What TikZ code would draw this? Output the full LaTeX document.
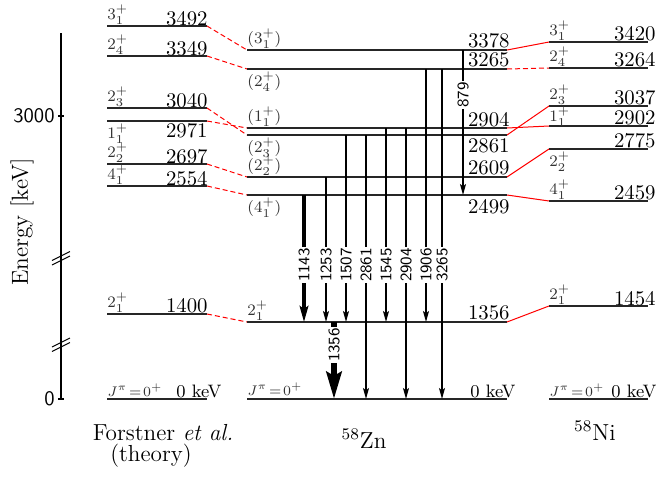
\RequirePackage{fix-cm}
\documentclass[tikz,border=0pt]{standalone}
\usepackage{fontspec}
\usetikzlibrary{arrows.meta}
\newcommand\myfs[1]{\fontsize{#1}{#1}\selectfont}
\tikzset{
  lvl/.style={line width=0.55pt, black!85},
  num/.style={inner sep=0pt, font=\myfs{10.4}},
  kev/.style={inner sep=0pt, font=\myfs{9}},
  lab/.style={inner sep=0pt, font=\myfs{8}, text=black!80},
  jlab/.style={inner sep=0pt, font=\myfs{7}, text=black!80},
  tr/.style={line width=0.75pt, -{Stealth[length=5.5pt,width=3pt,inset=1.2pt]}},
  trb/.style={line width=1.6pt, -{Stealth[length=8pt,width=4.3pt,inset=1.5pt]}},
  trc/.style={line width=3.3pt, -{Stealth[length=13.5pt,width=7.5pt,inset=2pt]}},
  tlab/.style={fill=white, inner sep=0.5pt, rotate=90, font=\sffamily\myfs{8}},
  redd/.style={red, line width=0.5pt, dash pattern=on 2.5pt off 1.5pt},
  reds/.style={red, line width=0.5pt},
  title/.style={inner sep=0pt, font=\myfs{11.6}},
  axl/.style={inner sep=0pt, font=\sffamily\myfs{10.3}},
  axis/.style={line width=0.55pt, black},
}
\begin{document}
\begin{tikzpicture}[x=0.5pt,y=-0.5pt]
\useasboundingbox (0,0) rectangle (659,477);
% level lines
\foreach \n/\y in {3492/26,3349/56,3040/108,2971/121,2697/164,2554/186,1400/314,0/399}{
  \coordinate (F\n w) at (107,\y); \coordinate (F\n e) at (207,\y);
  \draw[lvl] (F\n w) -- (F\n e);}
\foreach \n/\y in {3378/50,3265/69,2904/128,2861/135,2609/177,2499/195,1356/322,0/399}{
  \coordinate (Z\n w) at (247,\y); \coordinate (Z\n e) at (507,\y);
  \draw[lvl] (Z\n w) -- (Z\n e);}
\foreach \n/\y in {3420/42,3264/68,3037/106,2902/126,2775/149,2459/201,1454/306,0/399}{
  \coordinate (N\n w) at (549,\y); \coordinate (N\n e) at (648,\y);
  \draw[lvl] (N\n w) -- (N\n e);}
% red connectors
\draw[redd] (F3492e) -- (Z3378w);
\draw[redd] (F3349e) -- (Z3265w);
\draw[redd] (F3040e) -- (Z2861w);
\draw[redd] (F2971e) -- (Z2904w);
\draw[redd] (F2697e) -- (Z2609w);
\draw[redd] (F2554e) -- (Z2499w);
\draw[redd] (F1400e) -- (Z1356w);
\draw[reds] (Z3378e) -- (N3420w);
\draw[redd] (Z3265e) -- (N3264w);
\draw[reds] (Z2904e) -- (N2902w);
\draw[reds] (Z2861e) -- (N3037w);
\draw[reds] (Z2609e) -- (N2775w);
\draw[reds] (Z2499e) -- (N2459w);
\draw[reds] (Z1356e) -- (N1454w);
% transition x positions
\coordinate (x1143) at (304,0);
\coordinate (x1253) at (326,0);
\coordinate (x1356) at (334,0);
\coordinate (x1507) at (346,0);
\coordinate (x2861) at (366,0);
\coordinate (x1545) at (386,0);
\coordinate (x2904) at (406,0);
\coordinate (x1906) at (426,0);
\coordinate (x3265) at (442,0);
\coordinate (x879) at (463,0);
\coordinate (yl) at (0,265);
\coordinate (yl2) at (0,345);
\coordinate (yl3) at (0,95);
% transitions
\draw[trb] (x1143 |- Z2499w) -- (x1143 |- Z1356w);
\draw[tr] (x1253 |- Z2609w) -- (x1253 |- Z1356w);
\draw[tr] (x1507 |- Z2861w) -- (x1507 |- Z1356w);
\draw[tr] (x2861 |- Z2861w) -- (x2861 |- Z0w);
\draw[tr] (x1545 |- Z2904w) -- (x1545 |- Z1356w);
\draw[tr] (x2904 |- Z2904w) -- (x2904 |- Z0w);
\draw[tr] (x1906 |- Z3265w) -- (x1906 |- Z1356w);
\draw[tr] (x3265 |- Z3265w) -- (x3265 |- Z0w);
\draw[tr] (x879 |- Z3378w) -- (x879 |- Z2499w);
\draw[trc] (x1356 |- Z1356w) -- (x1356 |- Z0w);
% transition labels
\node[tlab] (l1143) at (x1143 |- yl) {1143};
\node[tlab] (l1253) at (x1253 |- yl) {1253};
\node[tlab] (l1507) at (x1507 |- yl) {1507};
\node[tlab] (l2861) at (x2861 |- yl) {2861};
\node[tlab] (l1545) at (x1545 |- yl) {1545};
\node[tlab] (l2904) at (x2904 |- yl) {2904};
\node[tlab] (l1906) at (x1906 |- yl) {1906};
\node[tlab] (l3265) at (x3265 |- yl) {3265};
\node[tlab] (l1356) at (x1356 |- yl2) {1356};
\node[tlab] (l879) at (x879 |- yl3) {879};
% left texts
\node[lab, anchor=south west] (fa) at (107,25) {$3_1^+$};
\node[num, anchor=base east] (fb) at (208,25) {3492};
\node[lab, anchor=south west] (fc) at (107,55) {$2_4^+$};
\node[num, anchor=base east] (fd) at (208,55) {3349};
\node[lab, anchor=south west] (fe) at (107,107) {$2_3^+$};
\node[num, anchor=base east] (ff) at (208,107) {3040};
\node[lab, anchor=north west] (fg) at (107,123) {$1_1^+$};
\node[num, anchor=base east] (fh) at (208,137) {2971};
\node[lab, anchor=south west] (fi) at (107,163) {$2_2^+$};
\node[num, anchor=base east] (fj) at (208,163) {2697};
\node[lab, anchor=south west] (fk) at (107,185) {$4_1^+$};
\node[num, anchor=base east] (fl) at (208,185) {2554};
\node[lab, anchor=south west] (fm) at (107,313) {$2_1^+$};
\node[num, anchor=base east] (fn) at (208,312) {1400};
\node[jlab, anchor=south west] (fo) at (107,397) {$J^\pi\!=\!0^+$};
\node[kev, anchor=base east] (fp) at (222,397) {0 keV};
% middle texts
\node[lab, anchor=south west] (za) at (247,49) {$(3_1^+)$};
\node[num, anchor=base east] (zb) at (510,47) {3378};
\node[lab, anchor=north west] (zc) at (247,71) {$(2_4^+)$};
\node[num, anchor=base east] (zd) at (510,66) {3265};
\node[lab, anchor=south west] (ze) at (247,127) {$(1_1^+)$};
\node[num, anchor=base east] (zf) at (510,126) {2904};
\node[lab, anchor=north west] (zg) at (247,137) {$(2_3^+)$};
\node[num, anchor=base east] (zh) at (510,152) {2861};
\node[lab, anchor=south west] (zi) at (247,176) {$(2_2^+)$};
\node[num, anchor=base east] (zj) at (510,174) {2609};
\node[lab, anchor=north west] (zk) at (247,197) {$(4_1^+)$};
\node[num, anchor=base east] (zl) at (510,213) {2499};
\node[lab, anchor=south west] (zm) at (247,321) {$2_1^+$};
\node[num, anchor=base east] (zn) at (510,319) {1356};
\node[jlab, anchor=south west] (zo) at (247,396) {$J^\pi\!=\!0^+$};
\node[kev, anchor=base east] (zp) at (516,397) {0 keV};
% right texts
\node[lab, anchor=south west] (na) at (549,41) {$3_1^+$};
\node[num, anchor=base east] (nb) at (656,40) {3420};
\node[lab, anchor=south west] (nc) at (549,67) {$2_4^+$};
\node[num, anchor=base east] (nd) at (656,66) {3264};
\node[lab, anchor=south west] (ne) at (549,105) {$2_3^+$};
\node[num, anchor=base east] (nf) at (656,104) {3037};
\node[lab, anchor=south west] (ng) at (549,127) {$1_1^+$};
\node[num, anchor=base east] (nh) at (656,124) {2902};
\node[lab, anchor=north west] (ni) at (549,151) {$2_2^+$};
\node[num, anchor=base east] (nj) at (656,147) {2775};
\node[lab, anchor=south west] (nk) at (549,200) {$4_1^+$};
\node[num, anchor=base east] (nl) at (656,199) {2459};
\node[lab, anchor=south west] (nm) at (549,305) {$2_1^+$};
\node[num, anchor=base east] (nn) at (656,305) {1454};
\node[jlab, anchor=south west] (no) at (549,397) {$J^\pi\!=\!0^+$};
\node[kev, anchor=base east] (np) at (657,397) {0 keV};
% bottom titles
\node[title, anchor=base] (t1) at (163,440) {Forstner \emph{et al.}};
\node[title, anchor=base] (t2) at (151,461) {(theory)};
\node[title, anchor=base] (t3) at (364,448) {$^{58}$Zn};
\node[title, anchor=base] (t4) at (595,440) {$^{58}$Ni};
% axis
\coordinate (axT) at (61,33);
\coordinate (axB) at (61,400);
\draw[axis] (axT) -- (axB);
\coordinate (tk3a) at (58,116); \coordinate (tk3b) at (64,116);
\coordinate (tk0a) at (58,399); \coordinate (tk0b) at (64,399);
\draw[axis] (tk3a) -- (tk3b);
\draw[axis] (tk0a) -- (tk0b);
\node[axl, anchor=east] (a3) at (55,116) {3000};
\node[axl, anchor=east] (a0) at (55,399) {0};
\node[title, rotate=90] (en) at (22,222) {Energy [keV]};
\coordinate (b1a) at (52,260.5); \coordinate (b1b) at (70,251.5);
\coordinate (b2a) at (52,265); \coordinate (b2b) at (70,256);
\coordinate (b3a) at (52,347); \coordinate (b3b) at (70,338);
\coordinate (b4a) at (52,351.5); \coordinate (b4b) at (70,342.5);
\draw[axis] (b1a) -- (b1b);
\draw[axis] (b2a) -- (b2b);
\draw[axis] (b3a) -- (b3b);
\draw[axis] (b4a) -- (b4b);
\end{tikzpicture}
\end{document}
